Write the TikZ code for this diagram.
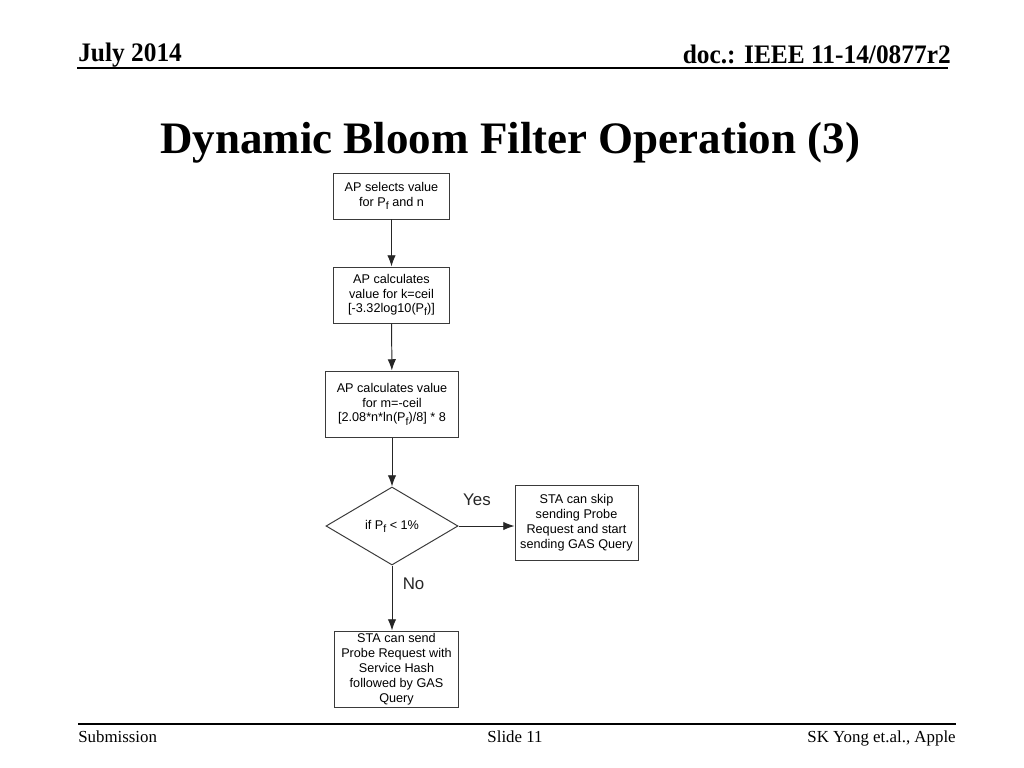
\documentclass[tikz,border=0pt]{standalone}
\usepackage{fontspec}
\setmainfont{Liberation Serif}
\newfontfamily\flowfont{Liberation Sans}
\usetikzlibrary{arrows.meta, positioning, shapes.geometric}
\definecolor{boxline}{HTML}{3A3A3A}
\newcommand{\pf}{P\raisebox{-0.45ex}{\fontsize{7.5}{8}\selectfont f}}

\tikzset{
  stepbox/.style={draw=boxline, line width=0.7pt, fill=white, align=center,
    font=\flowfont\fontsize{9}{10.6}\selectfont, inner sep=1pt},
  decide/.style={draw=boxline, line width=0.7pt, diamond, inner sep=0pt,
    minimum width=3.3cm, minimum height=1.95cm, font=\flowfont\fontsize{9}{10.6}\selectfont},
  flow/.style={-{Latex[length=8pt,width=6pt]}, line width=0.7pt, black!85},
  answer/.style={font=\flowfont\fontsize{12}{14}\selectfont},
  slidetext/.style={inner sep=0pt, font=\fontsize{12}{14}\selectfont}
}

\begin{document}
\begin{tikzpicture}[x=0.025cm, y=-0.025cm]
  \useasboundingbox (0,0) rectangle (1024,768);

  % slide header and footer
  \node[inner sep=0pt, xscale=0.95, font=\bfseries\fontsize{19}{22}\selectfont, anchor=base west] (date) at (78,62) {July 2014};
  \node[inner sep=0pt, xscale=0.95, font=\bfseries\fontsize{19}{22}\selectfont, anchor=base east] (docid) at (951,64) {doc.: IEEE 11-14/0877r2};
  \draw[line width=1.4pt] (77,68) -- (948,68);
  \node[inner sep=0pt, font=\bfseries\fontsize{32}{38}\selectfont, anchor=base] (title) at (510,153) {Dynamic Bloom Filter Operation (3)};
  \draw[line width=1pt] (78,724) -- (956,724);
  \node[slidetext, anchor=base west] (subm) at (78,742) {Submission};
  \node[slidetext, anchor=base] (slide) at (515,742) {Slide 11};
  \node[slidetext, anchor=base east] (auth) at (956,742) {SK Yong et.al., Apple};

  % flowchart
  \node[stepbox, minimum width=2.875cm, minimum height=1.15cm] (select) at (391.5,196)
    {AP selects value\\for \pf{} and n};
  \node[stepbox, minimum width=2.875cm, minimum height=1.4cm] (kval) at (391.5,295)
    {AP calculates\\value for k=ceil\\{[}-3.32log10(\pf)]};
  \node[stepbox, minimum width=3.3cm, minimum height=1.65cm] (mval) at (392,404)
    {AP calculates value\\for m=-ceil\\{[}2.08*n*ln(\pf)/8] * 8};
  \node[decide] (check) at (392,526) {if \pf{} < 1\%};
  \node[stepbox, minimum width=3.075cm, minimum height=1.875cm] (skip) at (576.5,522.5)
    {STA can skip\\sending Probe\\Request and start\\sending GAS Query};
  \node[stepbox, minimum width=3.075cm, minimum height=1.9cm] (probe) at (396.5,669)
    {STA can send\\Probe Request with\\Service Hash\\followed by GAS\\Query};

  \draw[flow] (select) -- (kval);
  \draw[flow] (kval) -- (mval);
  \draw[flow] (mval) -- (check);
  \draw[flow] (check.east) -- (check.east -| skip.west) node[answer, pos=0.33, above=11pt] {Yes};
  \draw[flow] (check.south) -- (check.south |- probe.north) node[answer, pos=0.28, right=4pt] {No};
\end{tikzpicture}
\end{document}
